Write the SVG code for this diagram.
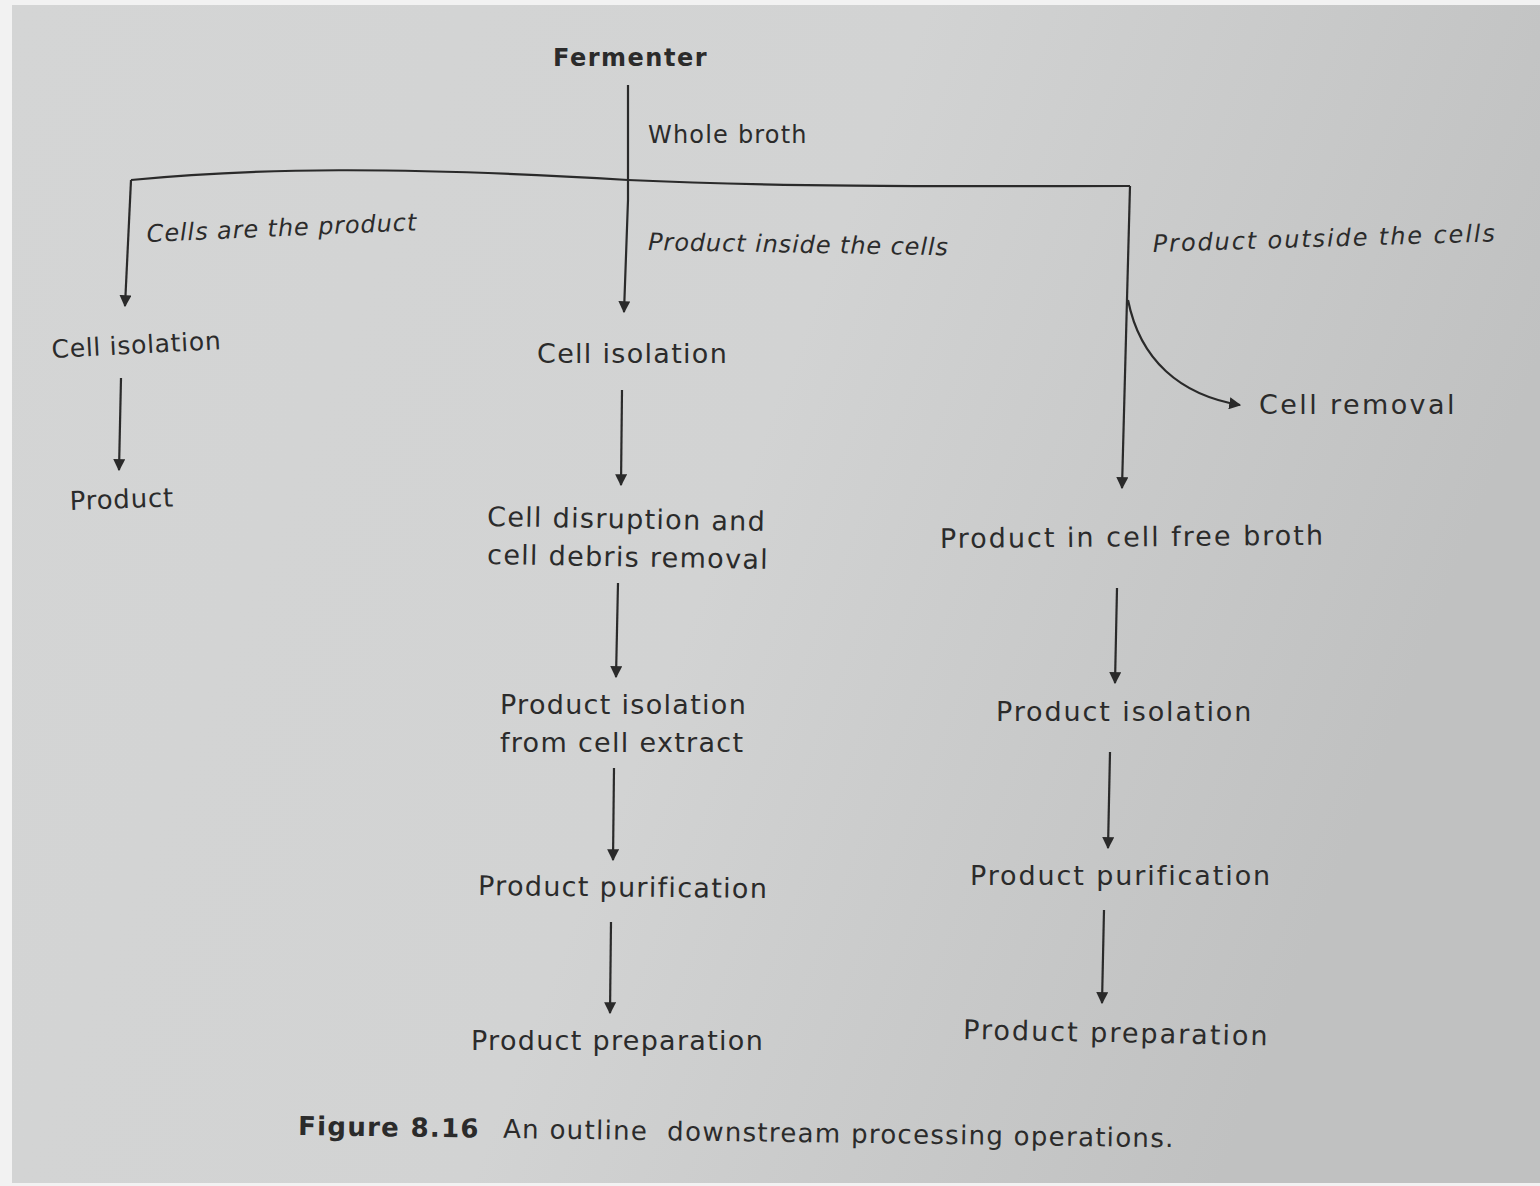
<svg xmlns="http://www.w3.org/2000/svg" width="1540" height="1186" viewBox="0 0 1540 1186">
<defs>
<linearGradient id="bg" x1="0" y1="0" x2="1" y2="0.3">
<stop offset="0" stop-color="#d4d5d5"/>
<stop offset="0.55" stop-color="#d2d3d3"/>
<stop offset="1" stop-color="#c0c1c1"/>
</linearGradient>
<marker id="ah" viewBox="0 0 10 10" refX="9" refY="5" markerWidth="12" markerHeight="12" markerUnits="userSpaceOnUse" orient="auto">
<path d="M0,0 L10,5 L0,10 z" fill="#2a2a2a"/>
</marker>
</defs>
<style>
.t{font-family:"DejaVu Sans",Verdana,sans-serif;font-size:27px;letter-spacing:1.3px;fill:#2b2b2b}
.r{letter-spacing:1.9px}
.i{font-family:"DejaVu Sans",Verdana,sans-serif;font-size:24px;letter-spacing:0.9px;font-style:italic;fill:#2b2b2b}
.b{font-weight:bold}
.c{font-family:"DejaVu Sans",Verdana,sans-serif;font-size:26px;letter-spacing:1.3px;fill:#2b2b2b}
.ln{fill:none;stroke:#2a2a2a;stroke-width:2.2}
.ar{fill:none;stroke:#2a2a2a;stroke-width:2.2;marker-end:url(#ah)}
</style>
<rect width="1540" height="1186" fill="#f2f2f2"/>
<rect x="12" y="5" width="1528" height="1178" fill="url(#bg)"/>

<g id="connectors">
<path class="ar" d="M628,85 L628,200 L624,312"/>
<path class="ln" d="M131,180 C250,168 400,166 628,180 C800,188 1000,186 1130,186"/>
<path class="ar" d="M131,180 L125,306"/>
<path class="ar" d="M1130,186 L1122,488"/>
<path class="ar" d="M1128,300 C1140,360 1180,395 1240,405"/>
<path class="ar" d="M121,378 L119,470"/>
<path class="ar" d="M622,390 L621,485"/>
<path class="ar" d="M618,583 L616,677"/>
<path class="ar" d="M614,768 L613,860"/>
<path class="ar" d="M611,922 L610,1013"/>
<path class="ar" d="M1117,588 L1115,683"/>
<path class="ar" d="M1110,752 L1108,848"/>
<path class="ar" d="M1104,910 L1102,1003"/>
</g>

<g id="fermenter"><text class="t b" x="553" y="66" style="font-size:24px;letter-spacing:1.5px">Fermenter</text></g>
<g id="lbl-whole"><text class="t" x="648" y="143" style="font-size:24px;letter-spacing:1.2px">Whole broth</text></g>
<g id="lbl-cells"><text class="i" x="147" y="242" transform="rotate(-2.5 147 242)">Cells are the product</text></g>
<g id="lbl-inside"><text class="i" x="648" y="250" transform="rotate(1 648 250)">Product inside the cells</text></g>
<g id="lbl-outside"><text class="i" x="1153" y="252" transform="rotate(-1.8 1153 252)" style="letter-spacing:1.9px">Product outside the cells</text></g>

<g id="left-cell-isolation"><text class="t" x="52" y="358" style="font-size:25px;letter-spacing:0.7px" transform="rotate(-3 52 358)">Cell isolation</text></g>
<g id="left-product"><text class="t" x="70" y="510" style="font-size:26px;letter-spacing:0.8px" transform="rotate(-2 70 510)">Product</text></g>

<g id="mid-cell-isolation"><text class="t" x="537" y="363">Cell isolation</text></g>
<g id="mid-disruption"><text class="t" x="487" y="526" transform="rotate(1 487 526)">Cell disruption and</text><text class="t" x="487" y="564" transform="rotate(1 487 564)">cell debris removal</text></g>
<g id="mid-isolation"><text class="t" x="500" y="714">Product isolation</text><text class="t" x="500" y="752">from cell extract</text></g>
<g id="mid-purification"><text class="t" x="478" y="895" transform="rotate(0.6 478 895)">Product purification</text></g>
<g id="mid-preparation"><text class="t" x="471" y="1050">Product preparation</text></g>

<g id="cell-removal"><text class="t" x="1259" y="414" style="letter-spacing:2.4px">Cell removal</text></g>
<g id="right-broth"><text class="t" x="940" y="548" style="letter-spacing:2px" transform="rotate(-0.5 940 548)">Product in cell free broth</text></g>
<g id="right-isolation"><text class="t r" x="996" y="721">Product isolation</text></g>
<g id="right-purification"><text class="t r" x="970" y="885">Product purification</text></g>
<g id="right-preparation"><text class="t" x="963" y="1039" style="letter-spacing:2px" transform="rotate(1.2 963 1039)">Product preparation</text></g>

<g id="caption"><text class="c" x="298" y="1135" transform="rotate(0.8 298 1135)"><tspan font-weight="bold">Figure 8.16</tspan><tspan x="503" style="white-space:pre">An outline  downstream processing operations.</tspan></text></g>
</svg>
